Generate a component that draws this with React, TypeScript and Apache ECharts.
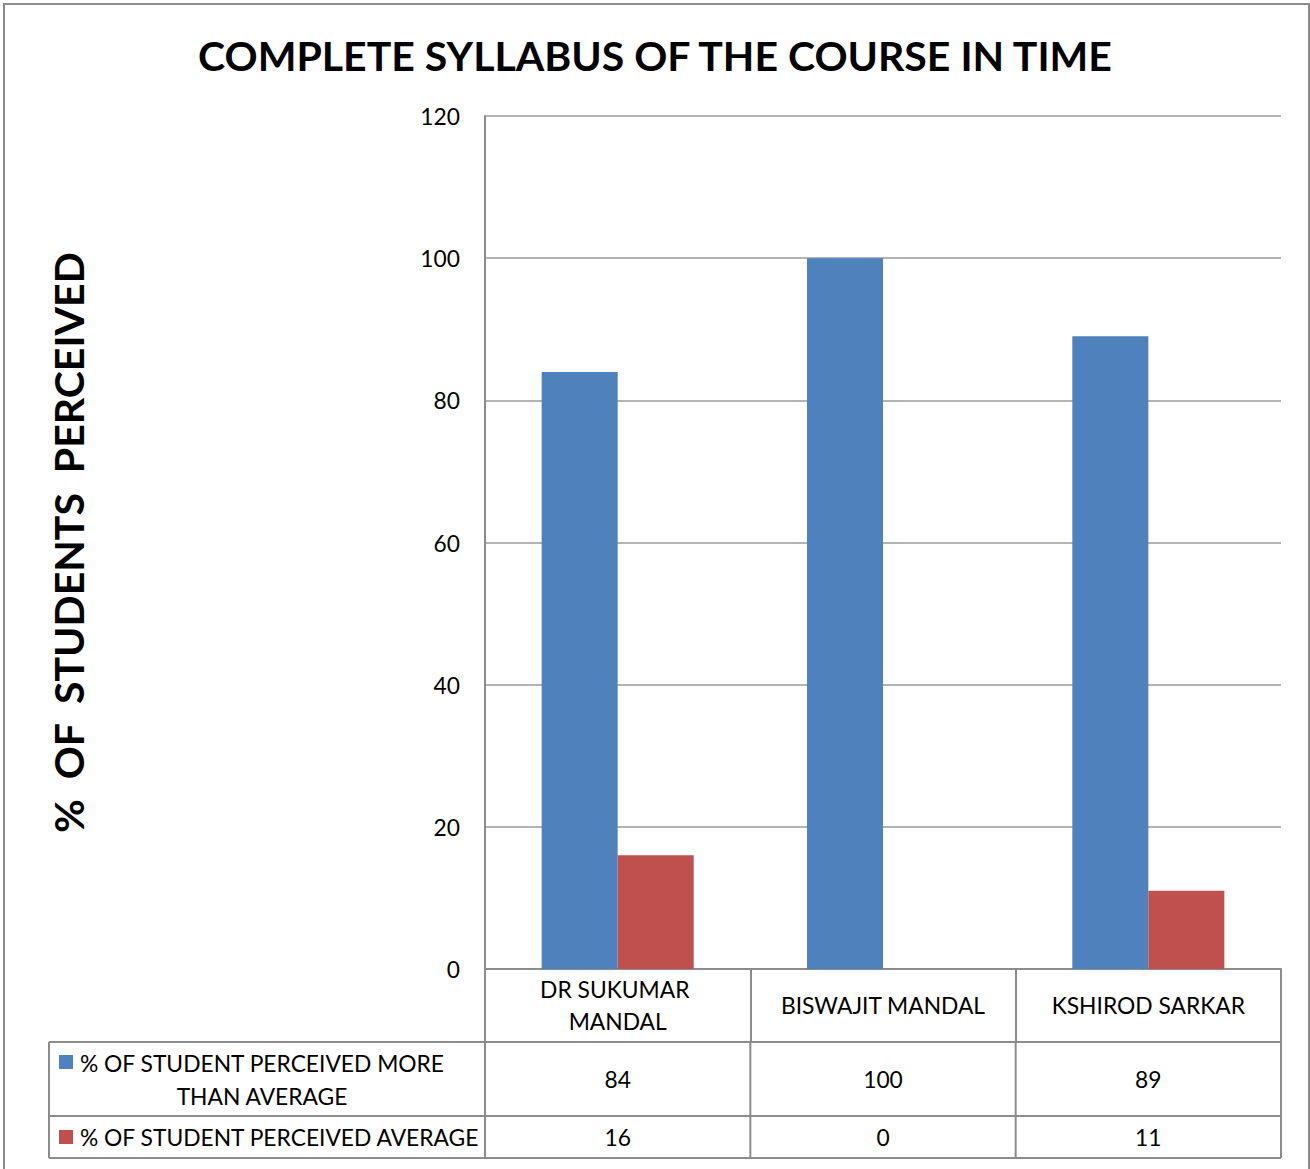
import React, { useEffect, useRef } from "react";
import * as echarts from "echarts";

const titleText = "COMPLETE SYLLABUS OF THE COURSE IN TIME";
const yAxisTitle = "%  OF  STUDENTS  PERCEIVED";
const categories = ["DR SUKUMAR MANDAL", "BISWAJIT MANDAL", "KSHIROD SARKAR"];
const seriesNames = ["% OF STUDENT PERCEIVED MORE THAN AVERAGE", "% OF STUDENT PERCEIVED AVERAGE"];
const moreThanAverage = [84, 100, 89];
const average = [16, 0, 11];
const colors = ["#4F81BD", "#C0504D"];
const yMin = 0;
const yMax = 120;
const yInterval = 20;

const W = 1310;
const H = 1169;
const FONT = "Lato";
const FS = 22.8;

export default function App() {
  const ref = useRef<HTMLDivElement>(null);
  useEffect(() => {
    document.body.style.margin = "0";
    const chart = echarts.init(ref.current!, null, { renderer: "svg" });
    const gLeft = 485, gRight = 1281, gTop = 116, gBottom = 969;
    const row1 = 1042, row2 = 1116, row3 = 1158, tableLeft = 49;
    const colW = (gRight - gLeft) / categories.length;
    const lineStyle = { stroke: "#8c8c8c", lineWidth: 2 };
    const graphic: any[] = [];
    graphic.push({ type: "rect", shape: { x: 4, y: 4, width: 1305, height: 1200 }, style: { fill: "none", stroke: "#8c8c8c", lineWidth: 2 }, silent: true });
    [row1, row2, row3].forEach((y) => graphic.push({ type: "line", shape: { x1: tableLeft, y1: y, x2: gRight, y2: y }, style: lineStyle }));
    graphic.push({ type: "line", shape: { x1: tableLeft, y1: row1, x2: tableLeft, y2: row3 }, style: lineStyle });
    for (let i = 0; i <= categories.length; i++) {
      const x = gLeft + i * colW;
      graphic.push({ type: "line", shape: { x1: x, y1: row1, x2: x, y2: row3 }, style: lineStyle });
    }
    const rows = [moreThanAverage, average];
    const rowCenters = [(row1 + row2) / 2, (row2 + row3) / 2];
    rows.forEach((vals, r) => {
      vals.forEach((v, i) => {
        graphic.push({ type: "text", x: gLeft + (i + 0.5) * colW, y: rowCenters[r], style: { text: String(v), font: `${FS}px ${FONT}`, fill: "#000", align: "center", verticalAlign: "middle" } });
      });
    });
    // legend keys in table
    graphic.push({ type: "rect", shape: { x: 59, y: 1055, width: 14, height: 14 }, style: { fill: colors[0] } });
    graphic.push({ type: "text", x: 262, y: rowCenters[0], style: { text: seriesNames[0].replace(" THAN ", "\nTHAN "), font: `${FS}px ${FONT}`, fill: "#000", align: "center", verticalAlign: "middle", lineHeight: 33 } });
    graphic.push({ type: "rect", shape: { x: 59, y: 1130, width: 14, height: 14 }, style: { fill: colors[1] } });
    graphic.push({ type: "text", x: 80, y: rowCenters[1], style: { text: seriesNames[1], font: `${FS}px ${FONT}`, fill: "#000", align: "left", verticalAlign: "middle" } });

    chart.setOption({
      animation: false,
      title: { text: titleText, left: "center", top: 30, textStyle: { fontFamily: FONT, fontWeight: "bold", fontSize: 41, color: "#000" } },
      grid: { left: gLeft, right: W - gRight, top: gTop, bottom: H - gBottom, containLabel: false },
      xAxis: {
        type: "category",
        data: categories,
        axisLine: { show: true, lineStyle: { color: "#8c8c8c", width: 2 } },
        axisTick: { show: true, interval: 0, length: row1 - gBottom, lineStyle: { color: "#8c8c8c", width: 2 } },
        axisLabel: { interval: 0, margin: 36, verticalAlign: "middle", fontSize: FS, fontFamily: FONT, color: "#000", width: 225, overflow: "break", lineHeight: 32 },
      },
      yAxis: {
        type: "value",
        min: yMin,
        max: yMax,
        interval: yInterval,
        name: yAxisTitle,
        nameLocation: "middle",
        nameRotate: 90,
        nameGap: 396,
        nameTextStyle: { fontFamily: FONT, fontWeight: "bold", fontSize: 41, color: "#000" },
        axisLine: { show: true, lineStyle: { color: "#8c8c8c", width: 2 } },
        axisTick: { show: false },
        splitLine: { lineStyle: { color: "#9a9a9a", width: 1.5 } },
        axisLabel: { margin: 25, fontSize: FS, fontFamily: FONT, color: "#000" },
      },
      series: [
        { name: seriesNames[0], type: "bar", data: moreThanAverage, barWidth: "28.65%", barGap: "0%", itemStyle: { color: colors[0] } },
        { name: seriesNames[1], type: "bar", data: average, barWidth: "28.65%", barGap: "0%", itemStyle: { color: colors[1] } },
      ],
      graphic,
    });
    return () => chart.dispose();
  }, []);
  return <div ref={ref} style={{ width: W, height: H }} />;
}
